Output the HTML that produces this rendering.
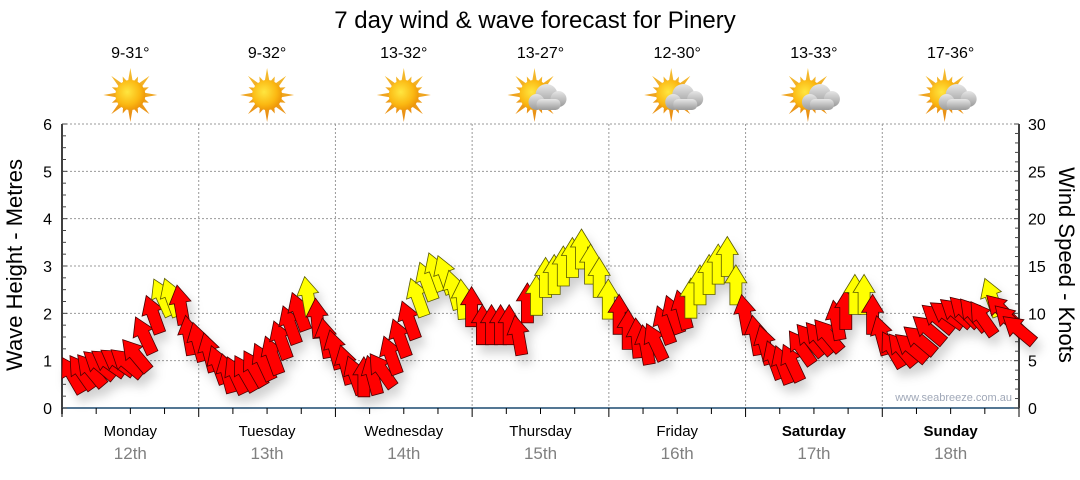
<!DOCTYPE html>
<html><head><meta charset="utf-8"><style>
body{margin:0;background:#fff;width:1080px;height:475px;overflow:hidden;font-family:"Liberation Sans",sans-serif}
</style></head><body>
<svg id="c" width="1080" height="475" xmlns="http://www.w3.org/2000/svg" font-family="Liberation Sans, sans-serif">
<defs>
<radialGradient id="sunG" cx="0.4" cy="0.4" r="0.7"><stop offset="0" stop-color="#ffe640"/><stop offset="0.6" stop-color="#fbb812"/><stop offset="1" stop-color="#e98a05"/></radialGradient>
<linearGradient id="rayG" x1="0" y1="0" x2="0" y2="1"><stop offset="0" stop-color="#f6c030"/><stop offset="1" stop-color="#e88a10"/></linearGradient>
<linearGradient id="cloudG" x1="0" y1="0" x2="0" y2="1"><stop offset="0" stop-color="#e6e6e6"/><stop offset="1" stop-color="#9a9a9a"/></linearGradient>
<filter id="sh" x="-20%" y="-20%" width="140%" height="160%"><feDropShadow dx="4" dy="8" stdDeviation="5" flood-color="#000" flood-opacity="0.18"/></filter>
</defs>
<text x="535" y="28" font-size="24" text-anchor="middle" fill="#000">7 day wind &amp; wave forecast for Pinery</text>
<g id="grid"></g>
<g id="axes"></g>
<g id="icons"></g>
<g id="arrows" filter="url(#sh)"></g>
<text x="1012" y="401" font-size="11" text-anchor="end" fill="#a0a8b8">www.seabreeze.com.au</text>
<text transform="translate(22,265) rotate(-90)" font-size="22" text-anchor="middle">Wave Height - Metres</text>
<text transform="translate(1059,265) rotate(90)" font-size="22" text-anchor="middle">Wind Speed - Knots</text>
</svg>
<script>
const dayNames=["Monday","Tuesday","Wednesday","Thursday","Friday","Saturday","Sunday"];
const dayDates=["12th","13th","14th","15th","16th","17th","18th"];
const temps=["9-31°","9-32°","13-32°","13-27°","12-30°","13-33°","17-36°"];
const iconTypes=["sun","sun","sun","cloud","cloud","cloud","cloud"];
const waveTicks=[0,1,2,3,4,5,6];
const windTicks=[0,5,10,15,20,25,30];
const hoursOfDay=[1.8,3.4,5.0,6.5,8.1,9.7,11.3,12.9,14.4,16.0,17.6,19.2,20.8,22.3,23.9];
const windKnots=[
3.5,3.8,4.0,4.6,4.8,4.9,4.8,5.6,7.7,9.9,11.7,11.7,10.9,7.7,7.0,
5.9,4.6,3.7,3.5,3.7,4.2,4.9,5.6,7.2,8.8,10.2,11.8,9.5,7.4,6.2,
4.6,3.5,3.3,3.5,4.0,5.6,7.4,9.3,11.7,13.4,14.4,14.1,12.5,11.5,10.7,
8.8,8.8,8.8,8.8,7.7,11.1,11.9,13.8,14.1,15.0,15.9,16.8,15.2,13.8,11.5,
9.9,8.3,7.4,6.7,7.0,8.8,9.9,10.4,11.6,13.0,14.1,15.2,16.0,13.0,9.9,
7.7,6.7,5.1,4.6,4.8,6.4,7.2,7.4,7.7,9.3,10.4,12.0,12.0,9.9,7.7,
6.2,6.2,6.4,7.2,8.3,9.5,9.9,10.1,10.2,9.9,9.5,11.7,10.4,9.3,8.3];
const windDir=[
-30,-35,-40,-50,-55,-55,-50,-40,-25,-20,-25,-20,-10,-10,-15,
-15,-20,-15,-25,-30,-30,-25,-20,-20,-20,-20,-10,-5,-10,-15,
-15,-20,0,-15,-35,-20,-20,-20,-20,-20,-20,-20,-15,-5,0,
0,0,0,0,-10,0,0,0,0,0,0,0,0,0,0,
0,0,-5,-10,-25,-20,-20,-15,0,0,0,0,0,0,-10,
-10,-15,-20,-20,-25,-35,-40,-40,-40,-10,0,0,0,0,-15,
-30,-40,-50,-50,-50,-50,-55,-50,-45,-40,-35,-20,-45,-45,-50];
const yellowThreshold=11.3;

const NS="http://www.w3.org/2000/svg";
const X0=62,X1=1019,Y0=408,Y1=124;
const DW=(X1-X0)/7;
const xHour=h=>X0+h/168*(X1-X0);
const yWave=m=>Y0-m/6*(Y0-Y1);
const yKnot=k=>Y0-k/30*(Y0-Y1);
function el(t,a,p){const e=document.createElementNS(NS,t);for(const k in a)e.setAttribute(k,a[k]);p.appendChild(e);return e;}
const grid=document.getElementById('grid'),axes=document.getElementById('axes'),icons=document.getElementById('icons'),arrows=document.getElementById('arrows');
waveTicks.forEach(m=>{if(m>0){const l=el('line',{x1:X0,x2:X1,y1:yWave(m),y2:yWave(m),stroke:'#999','stroke-dasharray':'2,2','stroke-width':1},grid);

}});
for(let d=1;d<7;d++){const l=el('line',{x1:X0+d*DW,x2:X0+d*DW,y1:Y1,y2:Y0,stroke:'#999','stroke-dasharray':'2,2','stroke-width':1},grid);

}
el('line',{x1:X0,x2:X0,y1:Y1,y2:Y0+6,stroke:'#000','stroke-width':1.5},axes);
el('line',{x1:X1,x2:X1,y1:Y1,y2:Y0,stroke:'#000','stroke-width':1.5},axes);
el('line',{x1:X0,x2:X1,y1:Y0,y2:Y0,stroke:'#1c4a70','stroke-width':1.5},axes);
for(let i=0;i<=24;i++){const m=i/4;const y=yWave(m);el('line',{x1:X0,x2:X0+(i%4==0?5:4),y1:y,y2:y,stroke:'#444','stroke-width':1},axes);}
for(let i=0;i<=30;i++){const y=yKnot(i);el('line',{x1:X1,x2:X1-(i%5==0?5:4),y1:y,y2:y,stroke:'#444','stroke-width':1},axes);}
waveTicks.forEach(m=>{const t=el('text',{x:X0-10,y:yWave(m)+6,'font-size':16,'text-anchor':'end',fill:'#000'},axes);t.textContent=m;

});
windTicks.forEach(k=>{const t=el('text',{x:X1+9,y:yKnot(k)+6,'font-size':16,fill:'#000'},axes);t.textContent=k;

});
for(let i=0;i<=28;i++){const x=X0+i*DW/4;el('line',{x1:x,x2:x,y1:Y0,y2:Y0+(i%4==0?9:6),stroke:'#000','stroke-width':1},axes);}
for(let d=0;d<7;d++){const cx=X0+(d+0.5)*DW;
const n=el('text',{x:cx,y:436,'font-size':15,'text-anchor':'middle',fill:'#000','font-weight':d>=5?'bold':'normal'},axes);n.textContent=dayNames[d];


const dt=el('text',{x:cx,y:459,'font-size':17,'text-anchor':'middle',fill:'#808080'},axes);dt.textContent=dayDates[d];


const tp=el('text',{x:cx,y:58,'font-size':16,'text-anchor':'middle',fill:'#000'},icons);tp.textContent=temps[d];


const g=el('g',{transform:`translate(${cx-(iconTypes[d]=='cloud'?6:0)},95)`},icons);


let pts=[];for(let i=0;i<32;i++){const a=i*Math.PI/16;const r=i%2==0?(i%4==0?27:20):13;pts.push((r*Math.cos(a)).toFixed(1)+','+(r*Math.sin(a)).toFixed(1));}
el('polygon',{points:pts.join(' '),fill:'url(#rayG)'},g);
el('circle',{r:15,fill:'url(#sunG)'},g);
if(iconTypes[d]=='cloud'){const c=el('g',{fill:'url(#cloudG)'},g);
el('circle',{cx:12,cy:0,r:11},c);el('circle',{cx:24,cy:4,r:8},c);el('circle',{cx:2,cy:7,r:8},c);el('rect',{x:2,y:4,width:24,height:11,rx:5},c);}
}
const ap="0,-20 11,-2 6,-2 6,20 -6,20 -6,-2 -11,-2";
windKnots.forEach((k,i)=>{const d=Math.floor(i/15);const h=d*24+hoursOfDay[i%15];
const p=el('polygon',{points:ap,transform:`translate(${xHour(h).toFixed(1)},${yKnot(k).toFixed(1)}) rotate(${windDir[i]})`,fill:k>=yellowThreshold?'#ffff00':'#ff0000',stroke:k>=yellowThreshold?'#5a5a00':'#4a0000','stroke-width':0.8,'stroke-linejoin':'miter'},arrows);

});
</script>
</body></html>
